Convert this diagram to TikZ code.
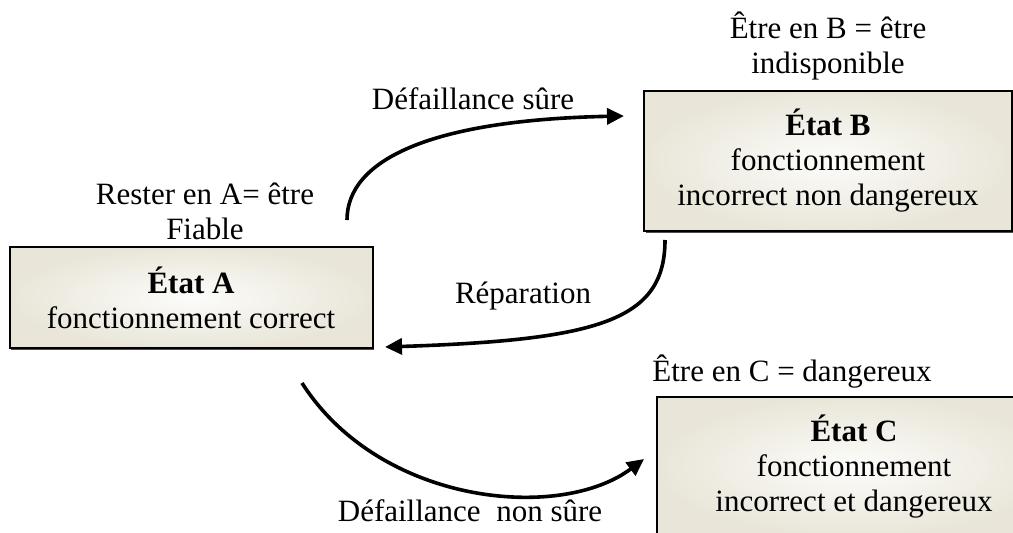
\documentclass[tikz,border=0pt]{standalone}
\usepackage{fontspec}
\setmainfont{Liberation Serif}
\usetikzlibrary{arrows.meta,shadows}
\definecolor{boxedge}{HTML}{E9E6D9}
\definecolor{boxmid}{HTML}{FCFCFA}
\tikzset{
  statebox/.style={draw=black, line width=2pt, shading=radial, inner color=boxmid, outer color=boxedge,
    align=center, inner sep=0pt, font=\fontsize{31}{35}\selectfont,
    drop shadow={shadow xshift=1.5pt, shadow yshift=-1.5pt, fill=black, opacity=0.7}},
  lbl/.style={align=center, inner sep=0pt, font=\fontsize{31}{35}\selectfont},
  conn/.style={line width=3.6pt, -{Triangle[length=17pt,width=16pt]}}
}
\begin{document}
\begin{tikzpicture}[x=1pt,y=-1pt]
\useasboundingbox[fill=white] (0,0) rectangle (1013,533);
\node[statebox, minimum width=363pt, minimum height=101pt] (A) at (191,297.5) {\textbf{État A}\\fonctionnement correct};
\node[statebox, minimum width=368pt, minimum height=140pt] (B) at (828,161) {\textbf{État B}\\fonctionnement\\incorrect non dangereux};
\node[statebox, minimum width=394pt, minimum height=139pt] (C) at (854,466.5) {\textbf{État C}\\fonctionnement\\incorrect et dangereux};
\node[lbl] (LB) at (828,46) {Être en B = être\\indisponible};
\node[lbl] (LS) at (473,99) {Défaillance sûre};
\node[lbl] (LA) at (205,211) {Rester en A= être\\Fiable};
\node[lbl] (LR) at (523,296) {Réparation};
\node[lbl] (LC) at (792,372) {Être en C = dangereux};
\node[lbl] (LN) at (470,511) {Défaillance\ \ non sûre};
\coordinate (s1) at (347,220);
\coordinate (e1) at (624,116);
\coordinate (s2) at (665,240);
\coordinate (e2) at (385,347);
\coordinate (s3) at (302,383);
\coordinate (e3) at (644,459);
\draw[conn] (s1) .. controls (347,160) and (430,120) .. (e1);
\draw[conn] (s2) .. controls (665,320) and (600,340) .. (e2);
\draw[conn] (s3) .. controls (380,505) and (560,522) .. (e3);
\end{tikzpicture}
\end{document}
